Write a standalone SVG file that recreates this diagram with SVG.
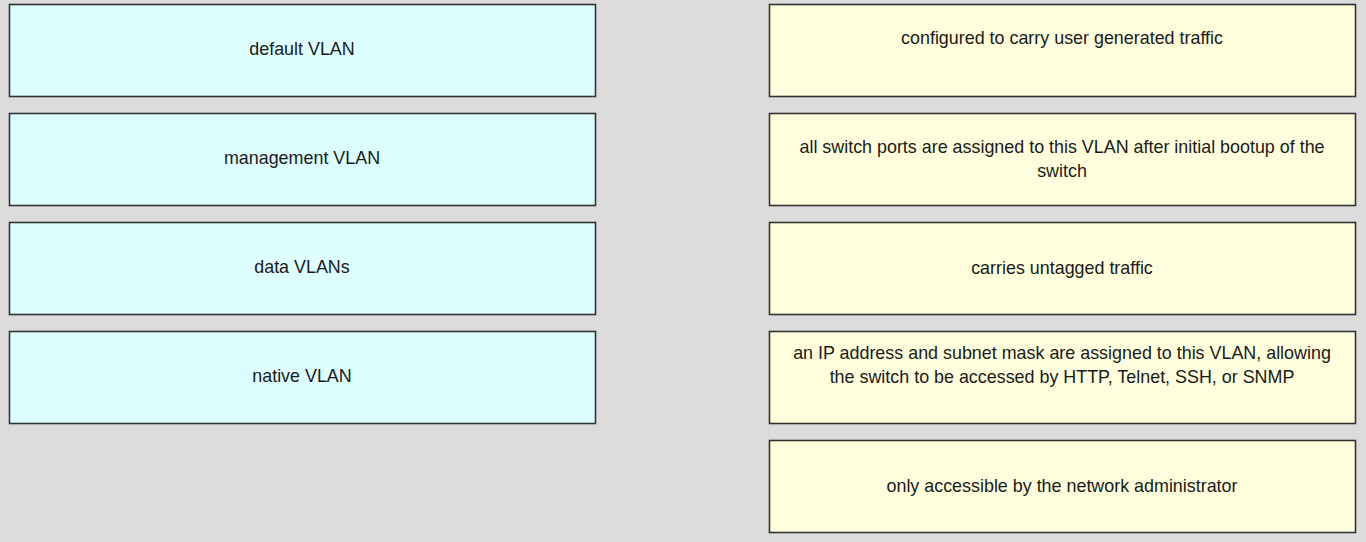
<svg xmlns="http://www.w3.org/2000/svg" width="1366" height="542" viewBox="0 0 1366 542">
<style>
.l{fill:#ddffff;stroke:#333;stroke-width:1.6}
.r{fill:#ffffdd;stroke:#333;stroke-width:1.6}
text{font-family:"Liberation Sans",Arial,sans-serif;font-size:17.9px;fill:#1a1a1a;text-anchor:middle}
</style>
<rect width="1366" height="542" fill="#dcdcdc"/>
<g id="left-default"><rect class="l" x="9.5" y="4.5" width="586" height="92"/><text x="302" y="55">default VLAN</text></g>
<g id="left-management"><rect class="l" x="9.5" y="113.5" width="586" height="92"/><text x="302" y="164">management VLAN</text></g>
<g id="left-data"><rect class="l" x="9.5" y="222.5" width="586" height="92"/><text x="302" y="273">data VLANs</text></g>
<g id="left-native"><rect class="l" x="9.5" y="331.5" width="586" height="92"/><text x="302" y="382">native VLAN</text></g>
<g id="right-1"><rect class="r" x="769.5" y="4.5" width="586" height="92"/><text x="1062" y="44">configured to carry user generated traffic</text></g>
<g id="right-2"><rect class="r" x="769.5" y="113.5" width="586" height="92"/><text x="1062" y="153">all switch ports are assigned to this VLAN after initial bootup of the</text><text x="1062" y="177">switch</text></g>
<g id="right-3"><rect class="r" x="769.5" y="222.5" width="586" height="92"/><text x="1062" y="274">carries untagged traffic</text></g>
<g id="right-4"><rect class="r" x="769.5" y="331.5" width="586" height="92"/><text x="1062" y="359">an IP address and subnet mask are assigned to this VLAN, allowing</text><text x="1062" y="383">the switch to be accessed by HTTP, Telnet, SSH, or SNMP</text></g>
<g id="right-5"><rect class="r" x="769.5" y="440.5" width="586" height="92"/><text x="1062" y="492">only accessible by the network administrator</text></g>
<g id="connectors"></g>
</svg>
